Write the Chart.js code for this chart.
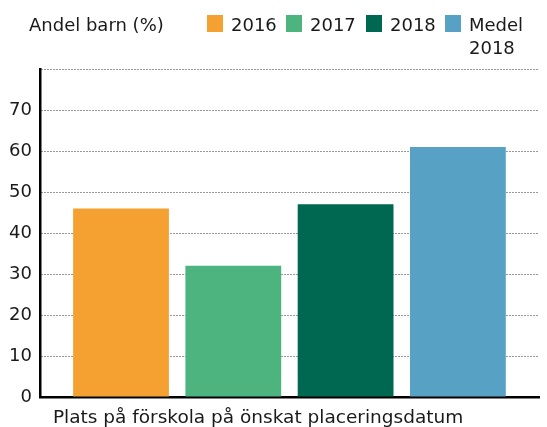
<!DOCTYPE html>
<html><head><meta charset="utf-8">
<script src="https://cdn.jsdelivr.net/npm/chart.js@4/dist/chart.umd.min.js"></script>
<style>html,body{margin:0;padding:0;background:#fff}#wrap{width:547px;height:427px}</style>
</head><body><div id="wrap"><canvas id="c" width="547" height="427"></canvas></div>
<script>
const categories = ['Plats på förskola på önskat placeringsdatum'];
const seriesNames = ['2016', '2017', '2018', ['Medel', '2018']];
const seriesValues = [46, 32, 47, 61];
const seriesColors = ['#F5A131', '#4DB47F', '#006751', '#56A1C4'];
const yTicks = [0, 10, 20, 30, 40, 50, 60, 70, 80];
const yTitle = 'Andel barn (%)';

const FONT = "'DejaVu Sans', Verdana, sans-serif";
const TEXT = '#1a1a1a';

const overlay = {
  id: 'overlay',
  afterDraw(chart) {
    const ctx = chart.ctx;
    const area = chart.chartArea;
    ctx.save();
    ctx.fillStyle = TEXT;
    ctx.font = '18px ' + FONT;
    ctx.textBaseline = 'alphabetic';
    ctx.textAlign = 'left';
    ctx.fillText(yTitle, 29, 31);
    // legend
    const boxX = [207, 286, 366, 445];
    seriesNames.forEach((n, i) => {
      const x = boxX[i];
      ctx.fillStyle = seriesColors[i];
      ctx.fillRect(x, 15, 16, 17);
      ctx.fillStyle = TEXT;
      const lines = Array.isArray(n) ? n : [n];
      lines.forEach((l, j) => {
        ctx.fillText(l, x + 24, 31 + j * 22.5);
      });
    });
    // category label
    ctx.font = '18.5px ' + FONT;
    ctx.fillText(categories[0], area.left + 13, 423);
    ctx.restore();
  }
};

new Chart(document.getElementById('c'), {
  type: 'bar',
  data: {
    labels: categories,
    datasets: seriesValues.map((v, i) => ({
      label: Array.isArray(seriesNames[i]) ? seriesNames[i].join(' ') : seriesNames[i],
      data: [v],
      backgroundColor: seriesColors[i],
      borderWidth: 0,
      categoryPercentage: 0.9,
      barPercentage: 0.853
    }))
  },
  options: {
    responsive: false,
    animation: false,
    devicePixelRatio: 1,
    layout: { padding: { top: 69, right: 8, bottom: 30, left: 1 } },
    plugins: { legend: { display: false }, tooltip: { enabled: false }, title: { display: false } },
    scales: {
      x: {
        ticks: { display: false },
        grid: { display: false, drawTicks: false },
        border: { display: true, color: '#000', width: 2.5 }
      },
      y: {
        min: 0, max: 80,
        afterBuildTicks(scale) { scale.ticks = yTicks.map(v => ({ value: v })); },
        ticks: {
          padding: 8,
          color: TEXT,
          font: { family: FONT, size: 18 },
          callback: (v) => (v === 80 ? '' : String(v))
        },
        grid: {
          drawTicks: false,
          color: (c) => (c.tick && c.tick.value === 0 ? 'rgba(0,0,0,0)' : '#333'),
          lineWidth: 1
        },
        border: { display: true, color: '#000', width: 2.5, dash: [1, 2] }
      }
    }
  },
  plugins: [overlay]
});
</script>
</body></html>
